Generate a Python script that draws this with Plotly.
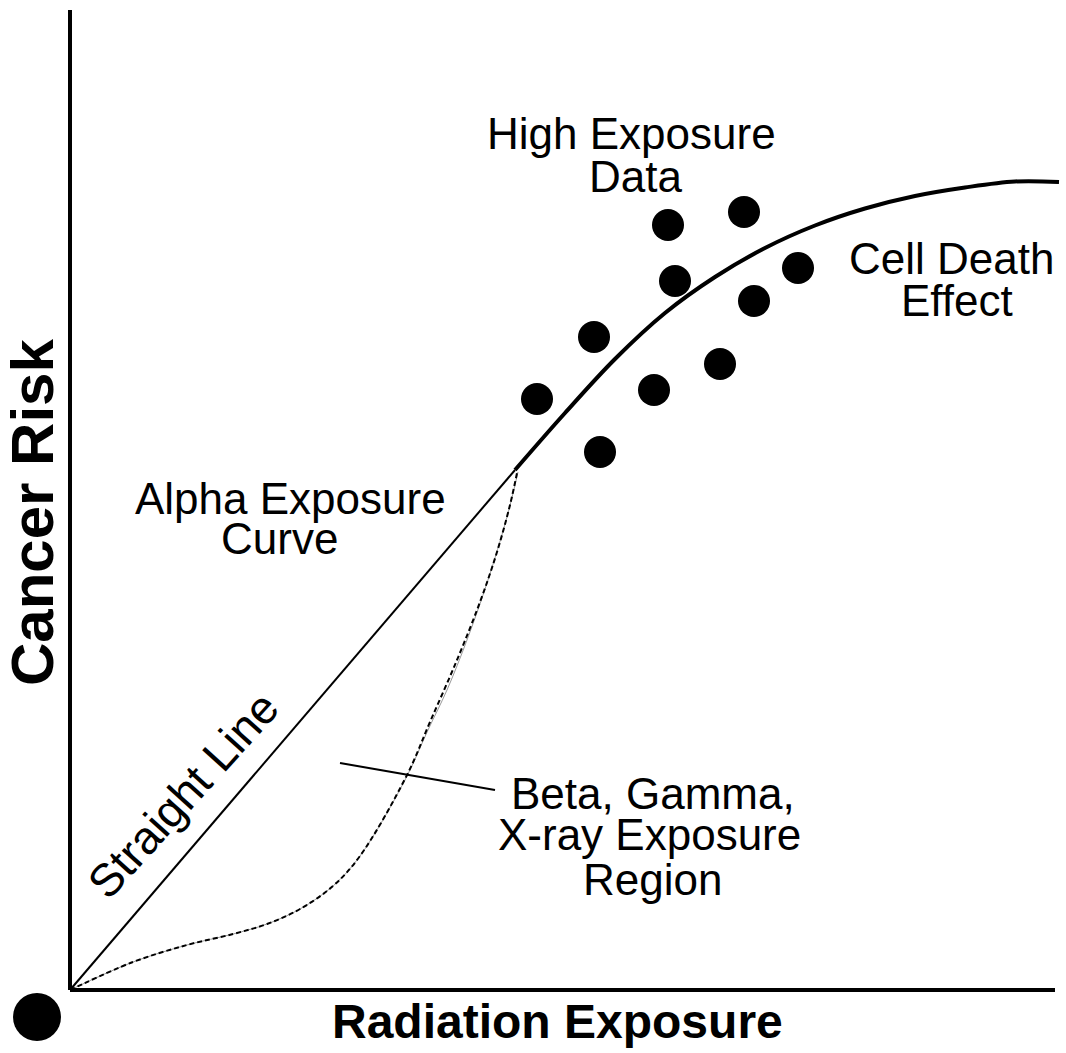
import plotly.graph_objects as go

# Conceptual dose-response diagram: exposure (x) vs cancer risk (y), 0-100 units

# Linear no-threshold segment ("Straight Line") up to the knee
linear_x = [0.0, 44.5]
linear_y = [0.0, 52.0]

# Alpha exposure curve continuing into the cell-death saturation region
alpha_x = [44.5, 49.5, 54.5, 59.5, 64.5, 69.5, 74.5, 79.5, 84.5, 89.5, 94.5, 98.9]
alpha_y = [52.0, 57.7, 63.1, 67.7, 71.3, 74.2, 76.45, 78.15, 79.4, 80.25, 80.85, 80.8]

# Lower (dashed) boundary of the beta / gamma / x-ray region
beta_x = [0.0, 6.3, 11.7, 16.3, 19.7, 23.0, 26.3, 29.0, 33.7, 36.0, 38.7, 41.0, 42.7, 44.0, 44.7]
beta_y = [0.0, 2.8, 4.5, 5.6, 6.6, 8.1, 10.4, 13.4, 21.5, 26.8, 33.0, 38.8, 43.8, 48.5, 51.7]

# Faint companion edge of the same region
edge_x = [0.0, 6.3, 11.7, 16.3, 19.7, 23.0, 26.3, 29.0, 33.5, 35.8, 37.7, 39.7, 41.7, 43.7, 44.8]
edge_y = [0.0, 2.8, 4.5, 5.6, 6.6, 8.1, 10.4, 13.4, 21.0, 26.0, 30.0, 35.0, 40.7, 47.3, 51.8]

# High-exposure observations
data_x = [46.7, 52.4, 53.0, 58.4, 59.8, 60.5, 65.0, 67.4, 68.4, 72.8]
data_y = [59.1, 65.3, 53.8, 60.0, 76.5, 70.9, 62.6, 77.8, 68.9, 72.2]

# Axis frame
yaxis_line_x = [0.0, 0.0]
yaxis_line_y = [98.0, 0.0]
xaxis_line_x = [0.0, 98.5]
xaxis_line_y = [0.0, 0.0]

# Leader line from the region label into the region
leader_x = [27.0, 42.5]
leader_y = [22.7, 20.0]

# Origin marker
origin_x = [-3.3]
origin_y = [-2.7]

FONT = "Liberation Sans, Arial, Helvetica, sans-serif"

fig = go.Figure()

fig.add_trace(go.Scatter(x=edge_x, y=edge_y, mode="lines",
                         line=dict(color="#9a9a9a", width=1, shape="spline"), hoverinfo="skip"))
fig.add_trace(go.Scatter(x=beta_x, y=beta_y, mode="lines",
                         line=dict(color="black", width=2, dash="5px,3px", shape="spline"),
                         hoverinfo="skip"))
fig.add_trace(go.Scatter(x=linear_x, y=linear_y, mode="lines",
                         line=dict(color="black", width=2), hoverinfo="skip"))
fig.add_trace(go.Scatter(x=alpha_x, y=alpha_y, mode="lines",
                         line=dict(color="black", width=4, shape="spline"), hoverinfo="skip"))
fig.add_trace(go.Scatter(x=leader_x, y=leader_y, mode="lines",
                         line=dict(color="black", width=2), hoverinfo="skip"))
fig.add_trace(go.Scatter(x=yaxis_line_x, y=yaxis_line_y, mode="lines",
                         line=dict(color="black", width=4), hoverinfo="skip"))
fig.add_trace(go.Scatter(x=xaxis_line_x, y=xaxis_line_y, mode="lines",
                         line=dict(color="black", width=4), hoverinfo="skip"))
fig.add_trace(go.Scatter(x=data_x, y=data_y, mode="markers",
                         marker=dict(color="black", size=32), hoverinfo="skip"))
fig.add_trace(go.Scatter(x=origin_x, y=origin_y, mode="markers",
                         marker=dict(color="black", size=48), cliponaxis=False, hoverinfo="skip"))

labels = [
    ("High Exposure", 56.15, 85.7),
    ("Data", 56.5, 81.4),
    ("Cell Death", 88.15, 73.2),
    ("Effect", 88.7, 69.0),
    ("Alpha Exposure", 22.05, 49.2),
    ("Curve", 20.9, 45.2),
    ("Beta, Gamma,", 58.25, 19.7),
    ("X-ray Exposure", 57.9, 15.6),
    ("Region", 58.25, 11.1),
]
for text, x, y in labels:
    fig.add_annotation(x=x, y=y, text=text, showarrow=False, xanchor="center", yanchor="middle",
                       font=dict(family=FONT, size=44, color="black"))

fig.add_annotation(x=11.3, y=19.5, text="Straight Line", showarrow=False, textangle=-48,
                   xanchor="center", yanchor="middle",
                   font=dict(family=FONT, size=46, color="black"))

fig.add_annotation(x=48.75, y=-3.1, text="<b>Radiation Exposure</b>", showarrow=False,
                   xanchor="center", yanchor="middle",
                   font=dict(family=FONT, size=48, color="black"))
fig.add_annotation(x=-3.8, y=47.7, text="<b>Cancer Risk</b>", showarrow=False, textangle=-90,
                   xanchor="center", yanchor="middle",
                   font=dict(family=FONT, size=60, color="black"))

fig.update_layout(
    width=1066, height=1053,
    margin=dict(l=0, r=0, t=0, b=0),
    paper_bgcolor="white", plot_bgcolor="white",
    showlegend=False,
    xaxis=dict(range=[-7.0, 99.6], visible=False, fixedrange=True),
    yaxis=dict(range=[-6.3, 99.0], visible=False, fixedrange=True),
)

fig.write_html("out.html")
